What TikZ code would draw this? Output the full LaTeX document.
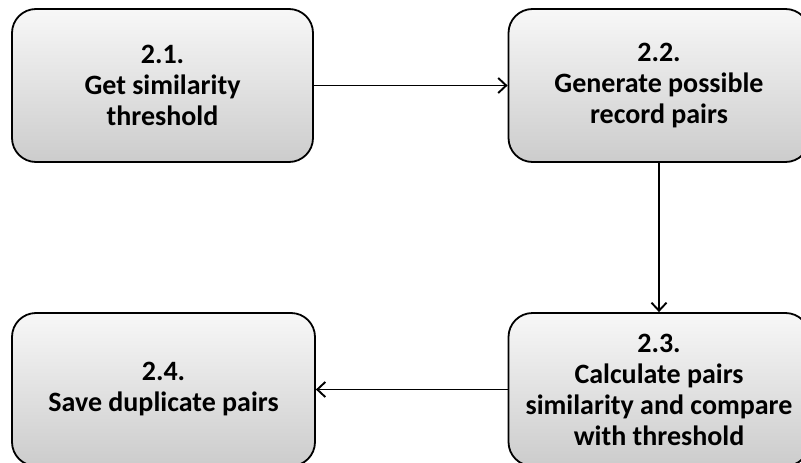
\documentclass[tikz,border=0pt]{standalone}
\usepackage{fontspec}
\setmainfont{Carlito}
\usetikzlibrary{arrows.meta}
\begin{document}
\begin{tikzpicture}[x=1pt,y=-1pt,
  stepbox/.style={draw=black, line width=1.8pt, rounded corners=24pt,
    top color=gray!6, bottom color=gray!40, shading angle=0,
    minimum width=301pt, minimum height=153pt, align=center,
    font=\bfseries\fontsize{28}{31}\selectfont, text=black, inner sep=0pt},
  flow/.style={draw=black, line width=1.4pt,
    -{Straight Barb[length=8pt,width=15pt,line width=1.9pt]}}]
  \path[use as bounding box, clip] (0,0) rectangle (801,463);
  % process steps
  \node[stepbox] (s21) at (162.5,85.5) {2.1.\\Get similarity\\threshold};
  \node[stepbox] (s22) at (659,85.5) {2.2.\\Generate possible\\record pairs};
  \node[stepbox] (s23) at (659,389.5) {2.3.\\Calculate pairs\\similarity and compare\\with threshold};
  \node[stepbox, minimum width=303pt] (s24) at (163.5,389.5) {2.4.\\Save duplicate pairs};
  % data flow between steps
  \draw[flow] (s21.east) -- (s22.west);
  \draw[flow] (s22.south) -- (s23.north);
  \draw[flow] (s23.west) -- (s24.east);
\end{tikzpicture}
\end{document}
